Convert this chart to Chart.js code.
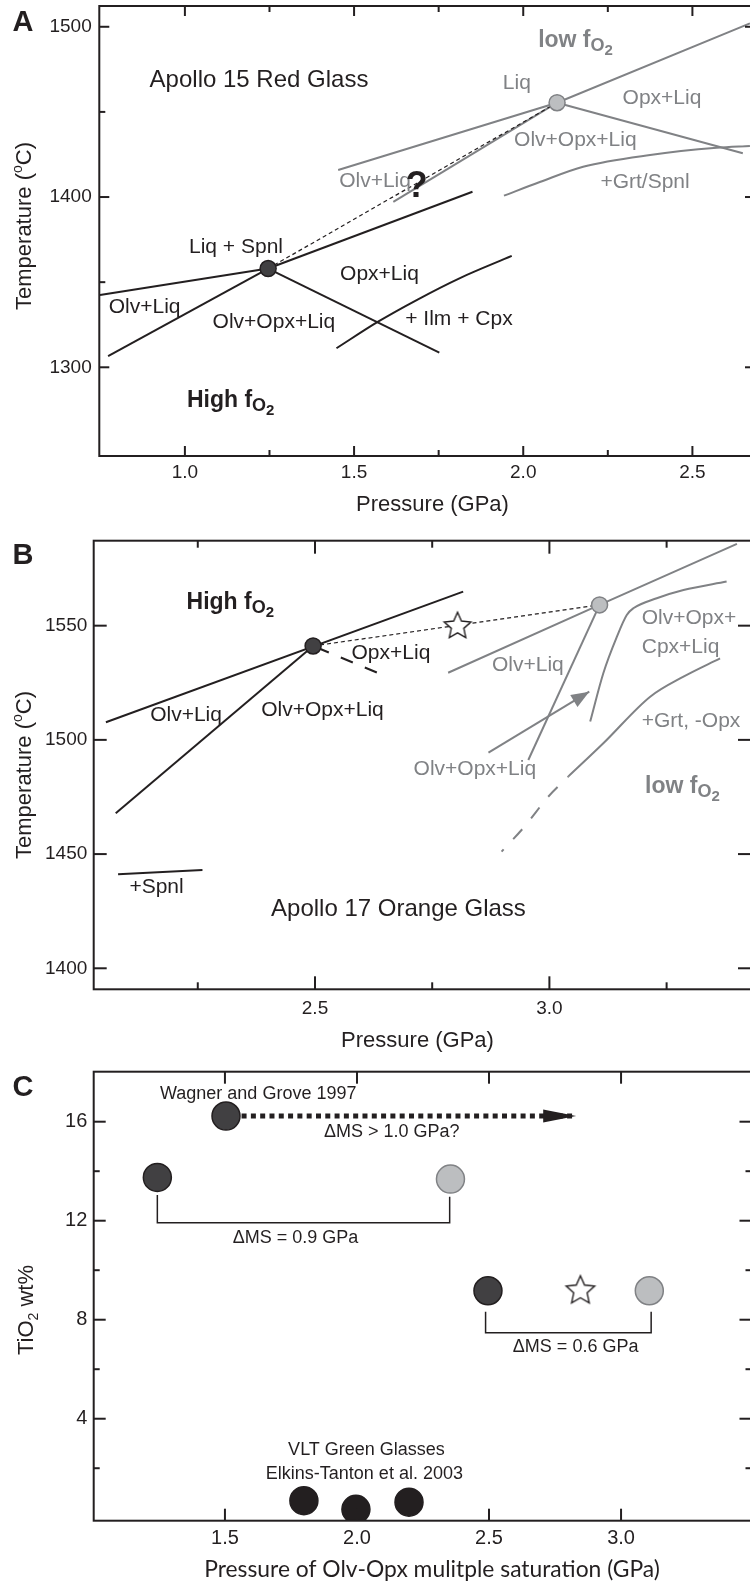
<!DOCTYPE html>
<html>
<head>
<meta charset="utf-8">
<title>Olv-Opx multiple saturation of lunar picritic glasses</title>
<script src="https://cdn.jsdelivr.net/npm/chart.js@4.4.1/dist/chart.umd.min.js"></script>
<style>
  html, body { margin: 0; padding: 0; background: #fff; width: 750px; height: 1585px; overflow: hidden; }
  .panel { position: absolute; left: 0; width: 760px; }
  #panelA { top: 0; height: 530px; }
  #panelB { top: 530px; height: 530px; }
  #panelC { top: 1060px; height: 525px; }
</style>
</head>
<body>
<div class="panel" id="panelA"><canvas id="chartA"></canvas></div>
<div class="panel" id="panelB"><canvas id="chartB"></canvas></div>
<div class="panel" id="panelC"><canvas id="chartC"></canvas></div>
<script>
// Lunar glasses - Olv-Opx multiple saturation at high vs low fO2
// Three stacked scatter charts. Phase boundaries are line datasets,
// ticks / labels / arrows are drawn by a small plugin through the chart scales.

const BLACK = '#231f20';
const GRAY = '#808285';
const DARK = '#414042';
const LIGHT = '#bcbec0';
const SANS = '"Liberation Sans", Arial, Helvetica, sans-serif';

// ---------- Panel A: Apollo 15 red glass (GPa, deg C) ----------
const aXRange = [0.747, 2.685];
const aYRange = [1247.9, 1512.2];
const aXTicks = [1.0, 1.5, 2.0, 2.5];
const aXMinor = [1.25, 1.75, 2.25];
const aYTicks = [1300, 1400, 1500];
const aYMinor = [1350, 1450];

const aHighMS = [[1.246, 1358.0]];
const aLowMS = [[2.100, 1455.4]];
const aOlvLiq = [[0.749, 1342.5], [1.246, 1358.0]];
const aLiqOpx = [[1.246, 1358.0], [1.850, 1403.1]];
const aOlvOpx = [[0.773, 1306.6], [1.246, 1358.0]];
const aOpxLiq = [[1.246, 1358.0], [1.752, 1308.6]];
const aIlmCpx = [[1.448, 1311.2], [1.571, 1326.8], [1.685, 1339.5], [1.813, 1352.4], [1.966, 1365.4]];
const aLink = [[1.246, 1358.0], [2.100, 1455.4]];
const aLowLiq = [[1.453, 1415.9], [2.100, 1455.4], [2.670, 1502.0]];
const aLowOlvOpx = [[1.616, 1397.2], [2.100, 1455.4]];
const aLowOpxLiq = [[2.100, 1455.4], [2.649, 1425.7]];
const aLowGrt = [[1.943, 1400.8], [2.049, 1408.8], [2.177, 1417.8], [2.375, 1424.7], [2.572, 1428.9], [2.670, 1430.0]];

const aTitle = [['Apollo 15 Red Glass', 1.219, 1468.7]];
const aBlackLabels = [['Liq + Spnl', 1.151, 1370.6], ['Opx+Liq', 1.575, 1354.8], ['Olv+Liq', 0.881, 1335.1],
  ['Olv+Opx+Liq', 1.263, 1326.3], ['+ Ilm + Cpx', 1.810, 1328.4]];
const aGrayLabels = [['Liq', 1.981, 1466.9], ['Opx+Liq', 2.410, 1458.1], ['Olv+Opx+Liq', 2.154, 1433.5],
  ['Olv+Liq', 1.562, 1409.4], ['+Grt/Spnl', 2.360, 1408.8]];
const aQuery = [['?', 1.685, 1406.0]];
const aFugacity = [['High', 1.006, 1276.9], ['low', 2.044, 1488.3]];

// ---------- Panel B: Apollo 17 orange glass ----------
const bXRange = [2.028, 3.430];
const bYRange = [1390.8, 1587.2];
const bXTicks = [2.5, 3.0];
const bXMinor = [2.25, 2.75, 3.25];
const bYTicks = [1400, 1450, 1500, 1550];
const bYMinor = [];

const bHighMS = [[2.496, 1541.1]];
const bLowMS = [[3.107, 1559.1]];
const bStar = [[2.804, 1550.3]];
const bOlvLiq = [[2.054, 1507.7], [2.816, 1564.9]];
const bOlvOpx = [[2.075, 1467.9], [2.496, 1541.1]];
const bOpxLiq = [[2.496, 1541.1], [2.639, 1528.9]];
const bSpnl = [[2.080, 1441.2], [2.260, 1443.0]];
const bLink = [[2.496, 1541.1], [3.107, 1559.1]];
const bLowOlvLiq = [[2.784, 1529.4], [3.107, 1559.1], [3.400, 1585.8]];
const bLowOlvOpx = [[3.107, 1559.1], [2.955, 1491.2]];
const bLowCpx = [[3.087, 1508.0], [3.115, 1529.2], [3.144, 1545.2], [3.165, 1554.7], [3.179, 1557.6],
  [3.229, 1562.0], [3.286, 1565.6], [3.378, 1569.3]];
const bLowGrt = [[3.040, 1483.9], [3.115, 1498.5], [3.215, 1518.9], [3.286, 1527.7], [3.364, 1535.7]];
const bLowGrtExt = [[2.898, 1451.1], [2.948, 1462.3], [2.997, 1475.0], [3.040, 1483.9]];
const bArrow = [[2.870, 1494.4], [3.085, 1521.1]];

const bTitle = [['Apollo 17 Orange Glass', 2.678, 1426.0]];
const bBlackLabels = [['Olv+Liq', 2.225, 1510.9], ['Olv+Opx+Liq', 2.516, 1513.1], ['Opx+Liq', 2.662, 1538.0],
  ['+Spnl', 2.162, 1435.4]];
const bGrayLabels = [['Olv+Liq', 2.954, 1532.8], ['Olv+Opx+Liq', 2.841, 1487.3]];
const bGrayLeft = [['Olv+Opx+', 3.197, 1553.4], ['Cpx+Liq', 3.197, 1540.7], ['+Grt, -Opx', 3.197, 1508.0]];
const bFugacity = [['High', 2.226, 1557.3], ['low', 3.204, 1476.7]];

// ---------- Panel C: TiO2 vs pressure of multiple saturation ----------
const cXRange = [1.003, 3.494];
const cYRange = [-0.12, 18.02];
const cXTicks = [1.5, 2.0, 2.5, 3.0];
const cXMinor = [];
const cYTicks = [4, 8, 12, 16];
const cYMinor = [2, 6, 10, 14];

const cWagner = [[1.504, 16.23]];
const cHighMS = [[1.244, 13.75], [2.496, 9.17]];
const cLowMS = [[2.354, 13.68], [3.107, 9.17]];
const cStar = [[2.846, 9.23]];
const cGreen = [[1.799, 0.69], [1.996, 0.34], [2.197, 0.63]];
const cBracket1 = [[1.244, 13.04], [1.244, 11.92], [2.351, 11.92], [2.351, 12.97]];
const cBracket2 = [[2.487, 8.32], [2.487, 7.47], [3.114, 7.47], [3.114, 8.32]];
const cArrow = [[1.563, 16.23], [2.830, 16.23]];

const cNotes = [['Wagner and Grove 1997', 1.626, 17.12], ['\u0394MS > 1.0 GPa?', 2.132, 15.58],
  ['\u0394MS = 0.9 GPa', 1.767, 11.32], ['\u0394MS = 0.6 GPa', 2.828, 6.88],
  ['VLT Green Glasses', 2.036, 2.72], ['Elkins-Tanton et al. 2003', 2.028, 1.75]];

// ---------- helpers ----------
function xy(arr) { return arr.map(([x, y]) => ({ x, y })); }

function lineDs(data, color, width, extra) {
  return Object.assign({
    data: xy(data), showLine: true, borderColor: color, borderWidth: width,
    pointRadius: 0, pointHoverRadius: 0, fill: false, tension: 0, order: 1
  }, extra || {});
}

function pointDs(data, fill, stroke, r, style) {
  return {
    data: xy(data), showLine: false, pointRadius: r, pointHoverRadius: r,
    pointBackgroundColor: fill, pointBorderColor: stroke, pointBorderWidth: 1.5,
    pointStyle: style || 'circle', order: 0
  };
}

const curved = { cubicInterpolationMode: 'monotone', tension: 0.4 };

function makeStar(r) {
  const s = Math.ceil(r * 2 + 4);
  const c = document.createElement('canvas');
  c.width = s; c.height = s;
  const g = c.getContext('2d');
  g.translate(s / 2, s / 2 + r * 0.095);
  g.beginPath();
  for (let i = 0; i < 10; i++) {
    const rr = i % 2 ? r * 0.47 : r;
    const ang = -Math.PI / 2 + i * Math.PI / 5;
    g.lineTo(rr * Math.cos(ang), rr * Math.sin(ang));
  }
  g.closePath();
  g.fillStyle = '#fff'; g.fill();
  g.strokeStyle = BLACK; g.lineWidth = 1.4; g.lineJoin = 'miter'; g.stroke();
  return c;
}

function richText(ctx, parts, x, y, align, color) {
  // parts: [text, size, bold, dy]
  const fontOf = p => (p[2] ? 'bold ' : '') + p[1] + 'px ' + SANS;
  let w = 0;
  parts.forEach(p => { ctx.font = fontOf(p); w += ctx.measureText(p[0]).width; });
  let cx = align === 'center' ? x - w / 2 : x;
  ctx.textAlign = 'left'; ctx.textBaseline = 'alphabetic'; ctx.fillStyle = color;
  parts.forEach(p => { ctx.font = fontOf(p); ctx.fillText(p[0], cx, y + p[3]); cx += ctx.measureText(p[0]).width; });
}

function fo2Parts(prefix) {
  return [[prefix + ' f', 23, true, 0], ['O', 18, true, 4], ['2', 15, true, 8]];
}

function vTitle(ctx, parts, cx, cy) {
  ctx.save();
  ctx.translate(cx, cy);
  ctx.rotate(-Math.PI / 2);
  richText(ctx, parts, 0, 8, 'center', BLACK);
  ctx.restore();
}

function textList(ctx, list, px, py, font, color, align) {
  ctx.font = font; ctx.fillStyle = color;
  ctx.textAlign = align || 'center'; ctx.textBaseline = 'middle';
  list.forEach(([t, p, v]) => ctx.fillText(t, px(p), py(v)));
}

function arrowHead(ctx, x0, y0, x1, y1, len, half, color) {
  const ang = Math.atan2(y1 - y0, x1 - x0);
  ctx.save();
  ctx.translate(x1, y1); ctx.rotate(ang);
  ctx.beginPath(); ctx.moveTo(0, 0); ctx.lineTo(-len, -half); ctx.lineTo(-len, half); ctx.closePath();
  ctx.fillStyle = color; ctx.fill();
  ctx.restore();
}

function panelPlugin(spec) {
  return {
    id: 'frame' + spec.letter,
    afterDatasetsDraw(chart) {
      const ctx = chart.ctx;
      const a = chart.chartArea;
      const xs = chart.scales.x, ys = chart.scales.y;
      const px = v => xs.getPixelForValue(v);
      const py = v => ys.getPixelForValue(v);
      ctx.save();
      // frame and inward ticks
      ctx.strokeStyle = BLACK; ctx.lineWidth = 2; ctx.lineCap = 'butt';
      ctx.strokeRect(a.left, a.top, a.right - a.left, a.bottom - a.top);
      const seg = (x1, y1, x2, y2) => { ctx.beginPath(); ctx.moveTo(x1, y1); ctx.lineTo(x2, y2); ctx.stroke(); };
      spec.xTicks.forEach(v => { const x = px(v); seg(x, a.bottom, x, a.bottom - spec.major); seg(x, a.top, x, a.top + spec.major); });
      spec.xMinor.forEach(v => { const x = px(v); seg(x, a.bottom, x, a.bottom - spec.minor); seg(x, a.top, x, a.top + spec.minor); });
      spec.yTicks.forEach(v => { const y = py(v); seg(a.left, y, a.left + spec.major, y); seg(a.right, y, a.right - spec.major, y); });
      spec.yMinor.forEach(v => {
        const y = py(v);
        seg(a.left, y, a.left + spec.minor, y);
        if (spec.rightMinor) seg(a.right, y, a.right - spec.minor, y);
      });
      // tick labels
      ctx.fillStyle = BLACK; ctx.font = spec.tickFont + 'px ' + SANS; ctx.textBaseline = 'middle';
      ctx.textAlign = 'center';
      spec.xTicks.forEach(v => ctx.fillText(v.toFixed(1), px(v), a.bottom + spec.xLabelGap));
      ctx.textAlign = 'right';
      spec.yTicks.forEach(v => ctx.fillText(String(v), a.left - spec.yLabelGap, py(v)));
      // panel letter
      ctx.font = 'bold 29px ' + SANS; ctx.textAlign = 'center';
      ctx.fillText(spec.letter, 23, spec.letterY);
      spec.decorate(ctx, px, py, a, chart);
      ctx.restore();
    }
  };
}

function axisOpts(range) {
  return {
    type: 'linear', min: range[0], max: range[1],
    grid: { display: false, drawTicks: false }, border: { display: false },
    ticks: { display: false },
    afterFit(s) {
      if (s.isHorizontal()) s.height = 0; else s.width = 0;
      s.paddingLeft = 0; s.paddingRight = 0; s.paddingTop = 0; s.paddingBottom = 0;
    }
  };
}

function buildChart(id, spec, datasets) {
  return new Chart(document.getElementById(id), {
    type: 'scatter',
    data: { datasets },
    options: {
      responsive: true, maintainAspectRatio: false, animation: false, events: [],
      layout: { padding: spec.padding, autoPadding: false },
      plugins: { legend: { display: false }, tooltip: { enabled: false } },
      scales: { x: axisOpts(spec.xRange), y: axisOpts(spec.yRange) }
    },
    plugins: [panelPlugin(spec)]
  });
}

const TEMP_TITLE = [['Temperature (', 22, false, 0], ['o', 14, false, -9], ['C)', 22, false, 0]];

// ---------- Panel A ----------
buildChart('chartA', {
  letter: 'A', letterY: 23,
  padding: { left: 99.3, top: 6, right: 5, bottom: 74 },
  xRange: aXRange, yRange: aYRange,
  xTicks: aXTicks, xMinor: aXMinor, yTicks: aYTicks, yMinor: aYMinor, rightMinor: false,
  major: 10, minor: 6, tickFont: 19, xLabelGap: 16.7, yLabelGap: 7.6,
  decorate(ctx, px, py, a) {
    ctx.font = '22px ' + SANS; ctx.textAlign = 'center'; ctx.textBaseline = 'middle'; ctx.fillStyle = BLACK;
    ctx.fillText('Pressure (GPa)', 432.5, 505);
    vTitle(ctx, TEMP_TITLE, 23, 226);
    textList(ctx, aTitle, px, py, '24px ' + SANS, BLACK);
    textList(ctx, aBlackLabels, px, py, '21px ' + SANS, BLACK);
    textList(ctx, aGrayLabels, px, py, '21px ' + SANS, GRAY);
    textList(ctx, aQuery, px, py, 'bold 36px ' + SANS, BLACK);
    aFugacity.forEach(([t, p, v]) => richText(ctx, fo2Parts(t), px(p), py(v), 'left', t === 'High' ? BLACK : GRAY));
  }
}, [
  pointDs(aHighMS, DARK, BLACK, 8),
  pointDs(aLowMS, LIGHT, GRAY, 8),
  lineDs(aOlvLiq, BLACK, 2),
  lineDs(aLiqOpx, BLACK, 2),
  lineDs(aOlvOpx, BLACK, 2),
  lineDs(aOpxLiq, BLACK, 2),
  lineDs(aIlmCpx, BLACK, 2, curved),
  lineDs(aLink, BLACK, 1.2, { borderDash: [4, 3] }),
  lineDs(aLowLiq, GRAY, 2),
  lineDs(aLowOlvOpx, GRAY, 2),
  lineDs(aLowOpxLiq, GRAY, 2),
  lineDs(aLowGrt, GRAY, 2, curved)
]);

// ---------- Panel B ----------
buildChart('chartB', {
  letter: 'B', letterY: 26,
  padding: { left: 93.7, top: 10.7, right: 9, bottom: 70.7 },
  xRange: bXRange, yRange: bYRange,
  xTicks: bXTicks, xMinor: bXMinor, yTicks: bYTicks, yMinor: bYMinor, rightMinor: false,
  major: 13, minor: 7, tickFont: 19, xLabelGap: 19.7, yLabelGap: 6.4,
  decorate(ctx, px, py, a) {
    ctx.font = '22px ' + SANS; ctx.textAlign = 'center'; ctx.textBaseline = 'middle'; ctx.fillStyle = BLACK;
    ctx.fillText('Pressure (GPa)', 417.5, 511);
    vTitle(ctx, TEMP_TITLE, 23, 245);
    textList(ctx, bTitle, px, py, '24px ' + SANS, BLACK);
    textList(ctx, bBlackLabels, px, py, '21px ' + SANS, BLACK);
    textList(ctx, bGrayLabels, px, py, '21px ' + SANS, GRAY);
    textList(ctx, bGrayLeft, px, py, '21px ' + SANS, GRAY, 'left');
    bFugacity.forEach(([t, p, v]) => richText(ctx, fo2Parts(t), px(p), py(v), 'left', t === 'High' ? BLACK : GRAY));
    const [p0, p1] = bArrow;
    arrowHead(ctx, px(p0[0]), py(p0[1]), px(p1[0]), py(p1[1]), 18, 7, GRAY);
  }
}, [
  pointDs(bHighMS, DARK, BLACK, 8),
  pointDs(bLowMS, LIGHT, GRAY, 8),
  pointDs(bStar, '#fff', BLACK, 14, makeStar(14)),
  lineDs(bOlvLiq, BLACK, 2),
  lineDs(bOlvOpx, BLACK, 2),
  lineDs(bSpnl, BLACK, 2),
  lineDs(bOpxLiq, BLACK, 2, { borderDash: [13, 13], borderDashOffset: 22 }),
  lineDs(bLink, BLACK, 1.2, { borderDash: [4, 3] }),
  lineDs(bLowOlvLiq, GRAY, 2),
  lineDs(bLowOlvOpx, GRAY, 2),
  lineDs(bLowCpx, GRAY, 2, curved),
  lineDs(bLowGrt, GRAY, 2, curved),
  lineDs(bLowGrtExt, GRAY, 2, Object.assign({ borderDash: [13.5, 14], borderDashOffset: 10.5 }, curved)),
  lineDs(bArrow, GRAY, 2)
]);

// ---------- Panel C ----------
buildChart('chartC', {
  letter: 'C', letterY: 28,
  padding: { left: 93.7, top: 11.7, right: 8.5, bottom: 64.3 },
  xRange: cXRange, yRange: cYRange,
  xTicks: cXTicks, xMinor: cXMinor, yTicks: cYTicks, yMinor: cYMinor, rightMinor: true,
  major: 12, minor: 6, tickFont: 20, xLabelGap: 18, yLabelGap: 6.4,
  decorate(ctx, px, py, a) {
    const title = 'Pressure of Olv-Opx mulitple saturation (GPa)';
    ctx.font = '22px Lato, "Open Sans", sans-serif';
    const fs = 22 * 456 / ctx.measureText(title).width;
    ctx.font = fs.toFixed(2) + 'px Lato, "Open Sans", sans-serif';
    ctx.textAlign = 'center'; ctx.textBaseline = 'middle'; ctx.fillStyle = BLACK;
    ctx.fillText(title, 432, 510);
    vTitle(ctx, [['TiO', 22, false, 0], ['2', 14, false, 5], [' wt%', 22, false, 0]], 25, 250);
    textList(ctx, cNotes, px, py, '18px ' + SANS, BLACK);
    const [p0, p1] = cArrow;
    arrowHead(ctx, px(p0[0]), py(p0[1]), px(p1[0]), py(p1[1]), 33, 6.5, BLACK);
  }
}, [
  pointDs(cWagner, DARK, BLACK, 14),
  pointDs(cHighMS, DARK, BLACK, 14),
  pointDs(cLowMS, LIGHT, GRAY, 14),
  pointDs(cStar, '#fff', BLACK, 15, makeStar(15)),
  pointDs(cGreen, BLACK, BLACK, 14),
  lineDs(cBracket1, BLACK, 1.5),
  lineDs(cBracket2, BLACK, 1.5),
  lineDs(cArrow, BLACK, 5, { borderDash: [5, 4.3], borderCapStyle: 'butt' })
]);
</script>
</body>
</html>
